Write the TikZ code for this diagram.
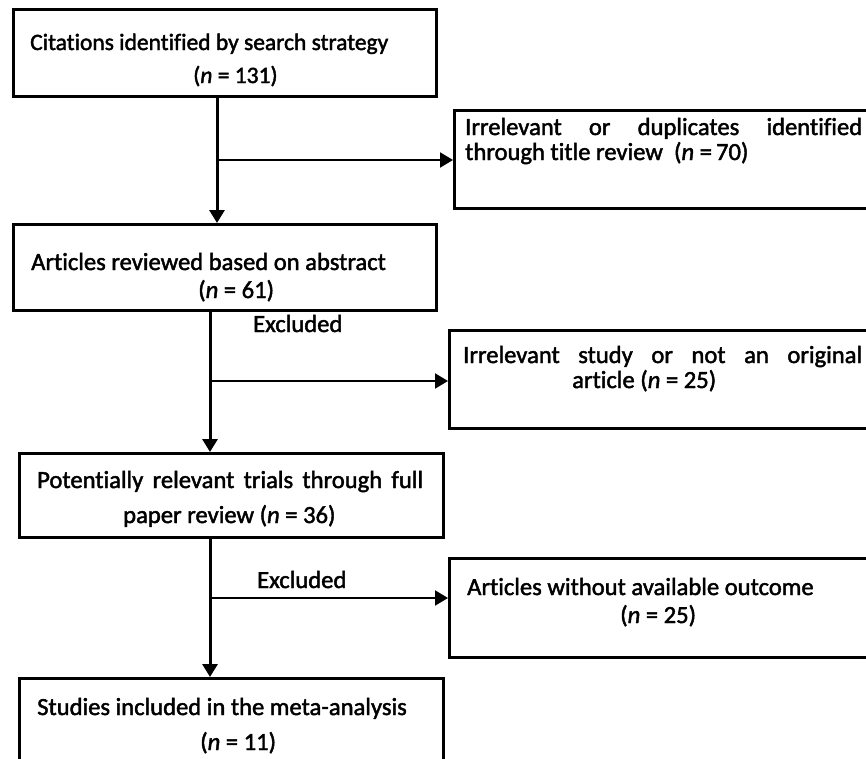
\documentclass[tikz,border=0pt]{standalone}
\usepackage{fontspec}
\setmainfont{Carlito}[Ligatures={NoCommon}]
\newfontfamily\heavyfont{Carlito}[Ligatures={NoCommon},FakeBold=1.8]
\usetikzlibrary{arrows.meta}
\begin{document}
\begin{tikzpicture}[x=1pt,y=-1pt,
  box/.style={draw,line width=2.7pt,anchor=north west,inner sep=0pt},
  varr/.style={line width=3pt,-{Triangle[length=13pt,width=15pt]}},
  harr/.style={line width=2pt,-{Triangle[length=13pt,width=15pt]}},
  txt/.style={anchor=base west,inner sep=0pt,font=\heavyfont\fontsize{24.6}{28}\selectfont},
  txts/.style={txt,font=\heavyfont\fontsize{23.5}{28}\selectfont}]
\useasboundingbox (0,0) rectangle (866,758);
\clip (0,0) rectangle (866,758);
\fill[white] (0,0) rectangle (866,758);
% boxes
\node[box,minimum width=423pt,minimum height=87pt] (b1) at (12,8) {};
\node[box,minimum width=430pt,minimum height=98pt] (b2) at (453,109) {};
\node[box,minimum width=423pt,minimum height=86pt] (b3) at (12,223) {};
\node[box,minimum width=430pt,minimum height=98pt] (b4) at (448,329) {};
\node[box,minimum width=424pt,minimum height=84pt] (b5) at (18,452) {};
\node[box,minimum width=430pt,minimum height=99pt] (b6) at (448,557) {};
\node[box,minimum width=424pt,minimum height=110pt] (b7) at (18,677) {};
% texts
\node[txts] (t1a) at (30,50) {Citations identified by search strategy};
\node[txts] (t1b) at (193,83) {(\textit{n} = 131)};
\node[txt] (t2a) at (465,135) {\makebox[397pt][s]{Irrelevant or duplicates identified}};
\node[txt] (t2b) at (465,160) {through title review\ \ (\textit{n} =\,70)};
\node[txt] (t3a) at (31,270) {Articles reviewed based on abstract};
\node[txt] (t3b) at (198,298) {(\textit{n} = 61)};
\node[txt] (x1) at (253,332) {Excluded};
\node[txt] (t4a) at (463,363) {\makebox[399pt][s]{Irrelevant study or not an original}};
\node[txt] (t4b) at (572,388) {article (\textit{n} = 25)};
\node[txt] (t5a) at (37,488) {\makebox[386pt][s]{Potentially relevant trials through full}};
\node[txt] (t5b) at (123,523) {paper review (\textit{n} = 36)};
\node[txt] (x2) at (257,588) {Excluded};
\node[txt] (t6a) at (467,595) {Articles without available outcome};
\node[txt] (t6b) at (620,623) {(\textit{n} = 25)};
\node[txt] (t7a) at (37,715) {Studies included in the meta-analysis};
\node[txt] (t7b) at (200,750) {(\textit{n} = 11)};
% junctions
\coordinate (j1) at (217,160);
\coordinate (j2) at (210,381);
\coordinate (j3) at (210,598);
% connectors
\draw[varr] (j1 |- b1.south) -- (j1 |- b3.north);
\draw[harr] (j1) -- (j1 -| b2.west);
\draw[varr] (j2 |- b3.south) -- (j2 |- b5.north);
\draw[harr] (j2) -- (j2 -| b4.west);
\draw[varr] (j3 |- b5.south) -- (j3 |- b7.north);
\draw[harr] (j3) -- (j3 -| b6.west);
\end{tikzpicture}
\end{document}
